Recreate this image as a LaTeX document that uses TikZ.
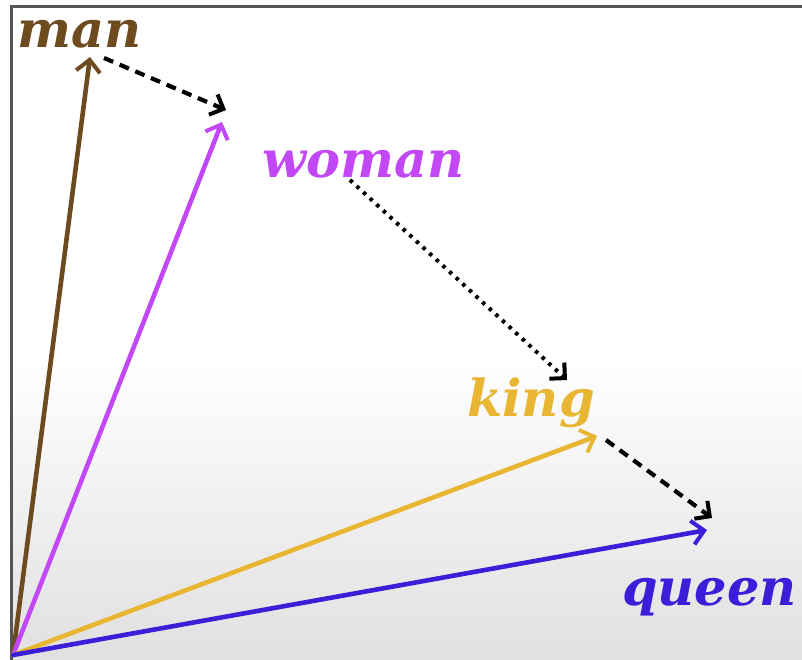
\documentclass[tikz,border=0pt]{standalone}
\usepackage{fontspec}
\newfontfamily\lblfont{DejaVu Serif}
\usetikzlibrary{arrows.meta}
\definecolor{cman}{HTML}{6E4B1F}
\definecolor{cwoman}{HTML}{C247F5}
\definecolor{cking}{HTML}{E8B632}
\definecolor{cqueen}{HTML}{3B1ED8}
\definecolor{frame}{HTML}{555555}
\begin{document}
\begin{tikzpicture}[x=1pt,y=-1pt,
  vec/.style={line width=4.6pt,line cap=round,-{Straight Barb[length=12pt,width=24pt,line width=4pt]}},
  diff/.style={black,line width=4.2pt,dash pattern=on 10pt off 7pt,-{Straight Barb[length=11pt,width=22pt,line width=4pt]}},
  diffdot/.style={black,line width=4pt,dash pattern=on 3.5pt off 5.5pt,-{Straight Barb[length=11pt,width=22pt,line width=4pt]}},
  lbl/.style={font=\lblfont\bfseries\itshape\fontsize{51}{58}\selectfont,inner sep=0pt,anchor=base west}]
\useasboundingbox (0,0) rectangle (802,660);
\fill[white] (0,0) rectangle (802,660);
\shade[top color=white,bottom color=black!12] (11,360) rectangle (802,660);
\draw[frame,line width=3pt] (11,660) -- (11,7) -- (802,7);
\coordinate (O) at (13,655);
\coordinate (tman) at (90,57);
\coordinate (twoman) at (222,122);
\coordinate (tking) at (597,436);
\coordinate (tqueen) at (707,530);
\coordinate (d1s) at (104,58);
\coordinate (d1e) at (226,110);
\coordinate (d2s) at (350,180);
\coordinate (d2e) at (567,380);
\coordinate (d3s) at (606,440);
\coordinate (d3e) at (712,518);
\node[lbl,text=cman] (lman) at (17,48) {man};
\node[lbl,text=cwoman] (lwoman) at (262,178) {woman};
\node[lbl,text=cking] (lking) at (467,416) {king};
\node[lbl,text=cqueen] (lqueen) at (622,605) {queen};
\draw[vec,cman] (O) -- (tman);
\draw[vec,cwoman] (O) -- (twoman);
\draw[vec,cking] (O) -- (tking);
\draw[vec,cqueen] (O) -- (tqueen);
\draw[diff] (d1s) -- (d1e);
\draw[diffdot] (d2s) -- (d2e);
\draw[diff] (d3s) -- (d3e);
\end{tikzpicture}
\end{document}
